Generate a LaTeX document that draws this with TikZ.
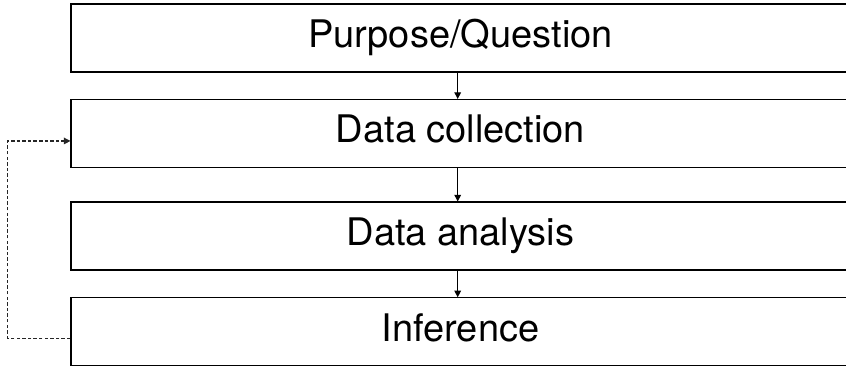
\documentclass[tikz,border=0pt]{standalone}
\usepackage{fontspec}
\setmainfont{TeX Gyre Heros}
\usetikzlibrary{arrows.meta}
\begin{document}
\begin{tikzpicture}[x=0.75pt,y=-0.75pt,
  stagebox/.style={draw=black,line width=0.8pt,rectangle,inner sep=0pt,
    minimum width=779*0.75pt,minimum height=68*0.75pt,
    font=\fontsize{28.5pt}{31pt}\selectfont,text height=21pt,text depth=6.8pt},
  flow/.style={-{Triangle[length=5pt,width=5pt]},line width=0.8pt,black},
  back/.style={-{Triangle[length=5pt,width=5pt]},line width=0.8pt,black!85,dash pattern=on 2.6pt off 1.6pt}]
\useasboundingbox (0,0) rectangle (846,365);
\clip (0,0) rectangle (846,365);
\node[stagebox] (b1) at (460.5,38) {Purpose/Question};
\node[stagebox] (b2) at (460.5,133.5) {Data collection};
\node[stagebox] (b3) at (460.5,236) {Data analysis};
\node[stagebox] (b4) at (460.5,331.8) {Inference};
\coordinate (ax) at (457.7,0);
\coordinate (lp) at (7.7,240);
\draw[flow] (b1.south -| ax) -- (b2.north -| ax);
\draw[flow] (b2.south -| ax) -- (b3.north -| ax);
\draw[flow] (b3.south -| ax) -- (b4.north -| ax);
\draw[back] ([yshift=-4.7pt]b4.west) -| (lp) |- ([yshift=-5.6pt]b2.west);
\end{tikzpicture}
\end{document}
